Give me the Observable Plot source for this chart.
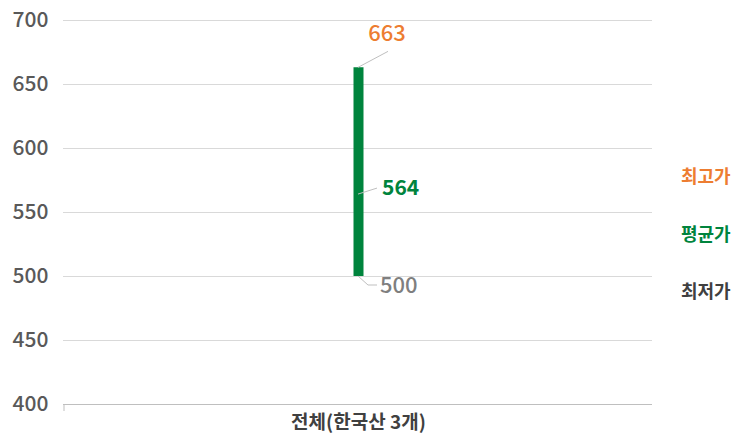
<!DOCTYPE html>
<html><head><meta charset="utf-8">
<script src="https://cdn.jsdelivr.net/npm/d3@7"></script>
<script src="https://cdn.jsdelivr.net/npm/@observablehq/plot@0.6"></script>
<style>body{margin:0;background:#fff;font-family:"Noto Sans CJK KR","Noto Sans",sans-serif}</style>
</head><body><div id="chart"></div>
<script>
const categories = ["전체(한국산 3개)"];
const maxValues = [663];
const avgValues = [564];
const minValues = [500];
const yTicks = [400, 450, 500, 550, 600, 650, 700];
const seriesNames = ["최고가", "평균가", "최저가"];

const colors = {max: "#ED7D31", avg: "#00843D", min: "#404040", minLabel: "#7F7F7F"};
const font = '"Noto Sans CJK KR","Noto Sans",sans-serif';

const rows = categories.map((c, i) => ({cat: c, max: maxValues[i], avg: avgValues[i], min: minValues[i]}));

function centerX(scales, c) {
  const x = scales.x;
  return x(c) + (x.bandwidth ? x.bandwidth() / 2 : 0);
}

// leader lines + value labels placed relative to scaled positions
function valueLabels(index, scales, values, dims) {
  const g = d3.create("svg:g").attr("font-family", font);
  for (const r of rows) {
    const cx = centerX(scales, r.cat);
    const yMax = scales.y(r.max), yAvg = scales.y(r.avg), yMin = scales.y(r.min);
    // max
    g.append("path").attr("d", `M${cx},${yMax}L${cx + 30},${yMax - 16}`).attr("stroke", "#BFBFBF").attr("fill", "none");
    g.append("text").attr("x", cx + 29).attr("y", yMax - 34).attr("text-anchor", "middle").attr("dy", "0.35em")
      .attr("font-size", 22).attr("font-weight", 500).attr("fill", colors.max).text(r.max);
    // avg
    g.append("path").attr("d", `M${cx},${yAvg}L${cx + 19},${yAvg - 6}`).attr("stroke", "#BFBFBF").attr("fill", "none");
    g.append("text").attr("x", cx + 24).attr("y", yAvg - 6).attr("text-anchor", "start").attr("dy", "0.35em")
      .attr("font-size", 21).attr("font-weight", "bold").attr("fill", colors.avg).text(r.avg);
    // min
    g.append("path").attr("d", `M${cx},${yMin}L${cx + 10},${yMin + 9}L${cx + 19},${yMin + 9}`).attr("stroke", "#BFBFBF").attr("fill", "none");
    g.append("text").attr("x", cx + 22).attr("y", yMin + 9).attr("text-anchor", "start").attr("dy", "0.35em")
      .attr("font-size", 22).attr("font-weight", 500).attr("fill", colors.minLabel).text(r.min);
  }
  return g.node();
}

function legend(index, scales, values, dims) {
  const g = d3.create("svg:g").attr("font-family", font).attr("font-size", 18).attr("font-weight", "bold").attr("text-anchor", "start");
  const x = dims.width - dims.marginRight + 29;
  const cols = [colors.max, colors.avg, colors.min];
  const y0 = dims.marginTop + 157;
  seriesNames.forEach((s, i) => {
    g.append("text").attr("x", x).attr("y", y0 + i * 57.5).attr("dy", "0.35em").attr("fill", cols[i]).text(s);
  });
  return g.node();
}

function baseTick(index, scales, values, dims) {
  const g = d3.create("svg:g");
  const x0 = dims.marginLeft + 1;
  const y = scales.y(yTicks[0]);
  g.append("path").attr("d", `M${x0},${y}V${y + 7}`).attr("stroke", "#BFBFBF");
  return g.node();
}

const chart = Plot.plot({
  width: 736,
  height: 440,
  marginLeft: 63,
  marginRight: 84,
  marginTop: 20,
  marginBottom: 36,
  style: {fontFamily: font, background: "#fff"},
  x: {domain: categories, label: null},
  y: {domain: [yTicks[0], yTicks[yTicks.length - 1]], label: null},
  marks: [
    Plot.ruleY(yTicks.slice(1), {stroke: "#D9D9D9"}),
    Plot.ruleY([yTicks[0]], {stroke: "#BFBFBF"}),
    baseTick,
    Plot.axisY({ticks: yTicks, tickSize: 0, tickPadding: 15, fontSize: 21, fontWeight: 500, fill: "#595959", label: null}),
    Plot.axisX({tickSize: 0, tickPadding: 11, fontSize: 19, fontWeight: "bold", fill: "#404040", label: null}),
    Plot.ruleX(rows, {x: "cat", y1: "min", y2: "max", stroke: colors.avg, strokeWidth: 10}),
    valueLabels,
    legend
  ]
});
document.getElementById("chart").appendChild(chart);
</script>
</body></html>
